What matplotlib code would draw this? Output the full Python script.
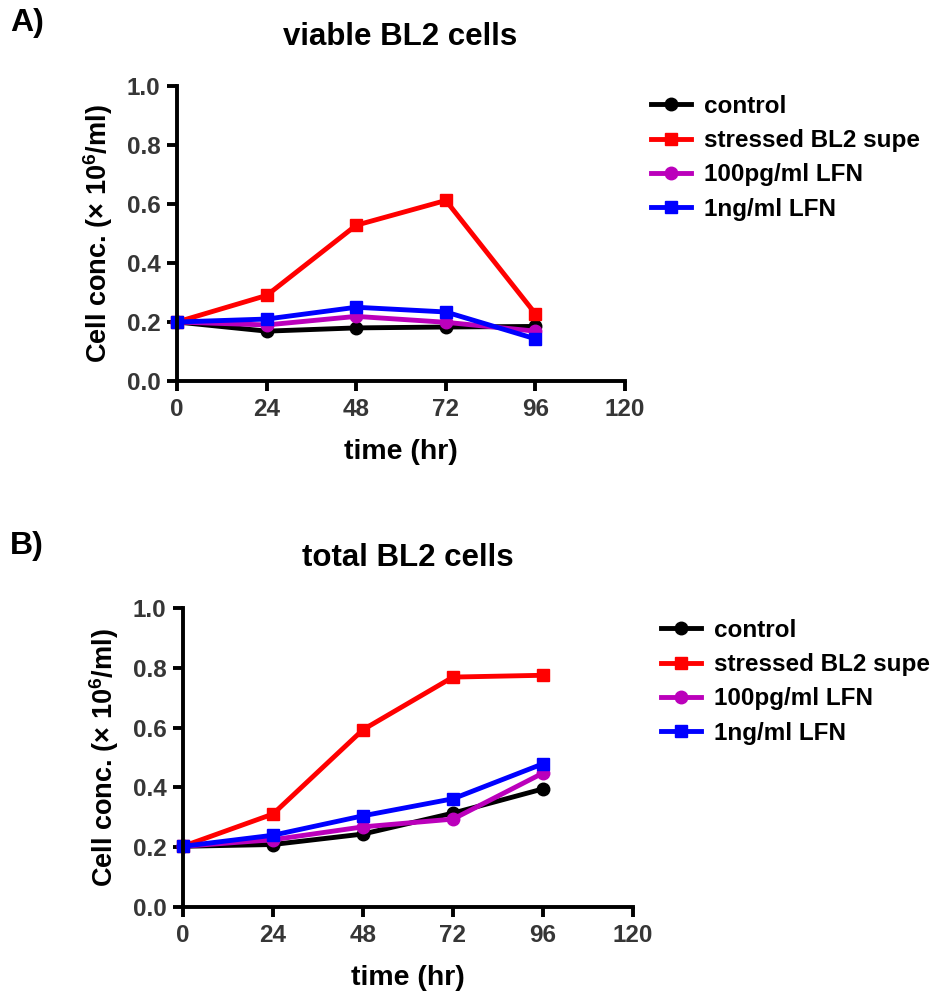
import matplotlib
matplotlib.use('Agg')
import matplotlib.pyplot as plt

plt.rcParams['font.family'] = ['Liberation Sans', 'DejaVu Sans']
plt.rcParams['font.weight'] = 'bold'
plt.rcParams['mathtext.fontset'] = 'custom'
plt.rcParams['mathtext.bf'] = 'Liberation Sans:bold'
plt.rcParams['mathtext.rm'] = 'Liberation Sans'
plt.rcParams['mathtext.default'] = 'bf'

# time points (hr)
time_hr = [0, 24, 48, 72, 96]

# A) viable BL2 cells
viable_control = [0.20, 0.169, 0.180, 0.183, 0.185]
viable_stressed = [0.20, 0.290, 0.528, 0.612, 0.228]
viable_100pg = [0.20, 0.190, 0.219, 0.199, 0.169]
viable_1ng = [0.20, 0.210, 0.250, 0.234, 0.143]

# B) total BL2 cells
total_control = [0.203, 0.209, 0.244, 0.314, 0.395]
total_stressed = [0.203, 0.311, 0.593, 0.769, 0.775]
total_100pg = [0.203, 0.225, 0.268, 0.294, 0.448]
total_1ng = [0.203, 0.240, 0.305, 0.362, 0.479]

labels = ['control', 'stressed BL2 supe', '100pg/ml LFN', '1ng/ml LFN']
colors = ['black', '#ff0000', '#bb00bb', '#0000ff']
markers = ['o', 's', 'o', 's']

xticks = [0, 24, 48, 72, 96, 120]
yticks = [0.0, 0.2, 0.4, 0.6, 0.8, 1.0]

W, H = 940, 997
fig = plt.figure(figsize=(W / 100, H / 100), dpi=100)


def draw_panel(ax, series, leg_xy):
    for vals, lab, c, m in zip(series, labels, colors, markers):
        ax.plot(time_hr, vals, color=c, marker=m, markersize=9, linewidth=3.5,
                label=lab, clip_on=False)
    ax.set_xlim(0, 120)
    ax.set_ylim(0, 1.0)
    ax.set_xticks(xticks)
    ax.set_yticks(yticks)
    ax.set_yticklabels([f'{v:.1f}' for v in yticks])
    for s in ['top', 'right']:
        ax.spines[s].set_visible(False)
    for s in ['left', 'bottom']:
        ax.spines[s].set_linewidth(2.8)
    ax.tick_params(axis='both', direction='out', length=7, width=2.8,
                   labelsize=17.5, labelcolor='#363636', pad=5)
    for t in ax.get_xticklabels() + ax.get_yticklabels():
        t.set_fontweight('bold')
    ax.set_xlabel('time (hr)', fontsize=20.5, fontweight='bold', labelpad=13)
    ax.set_ylabel('Cell conc. ($\\mathrm{\\times}$ 10$^{6}$/ml)', fontsize=19.5,
                  fontweight='bold', labelpad=8)
    leg = ax.legend(loc='upper left', bbox_to_anchor=(leg_xy[0] / W, 1 - leg_xy[1] / H),
                    bbox_transform=fig.transFigure, frameon=False, borderpad=0,
                    borderaxespad=0, fontsize=17.5, handlelength=1.65,
                    handletextpad=0.53, labelspacing=0.46)
    for t in leg.get_texts():
        t.set_fontweight('bold')


axA = fig.add_axes([177 / W, 1 - 381 / H, 448 / W, 295 / H])
draw_panel(axA, [viable_control, viable_stressed, viable_100pg, viable_1ng], (651, 95))

axB = fig.add_axes([183 / W, 1 - 907 / H, 450 / W, 299 / H])
draw_panel(axB, [total_control, total_stressed, total_100pg, total_1ng], (661, 619))

fig.text(400 / W, 1 - 37 / H, 'viable BL2 cells', fontsize=22.5, fontweight='bold',
         ha='center', va='center')
fig.text(408 / W, 1 - 558 / H, 'total BL2 cells', fontsize=22.5, fontweight='bold',
         ha='center', va='center')
fig.text(10 / W, 1 - 23 / H, 'A)', fontsize=23, fontweight='bold', va='center')
fig.text(10 / W, 1 - 546 / H, 'B)', fontsize=23, fontweight='bold', va='center')

fig.savefig('out.png', dpi=100)
